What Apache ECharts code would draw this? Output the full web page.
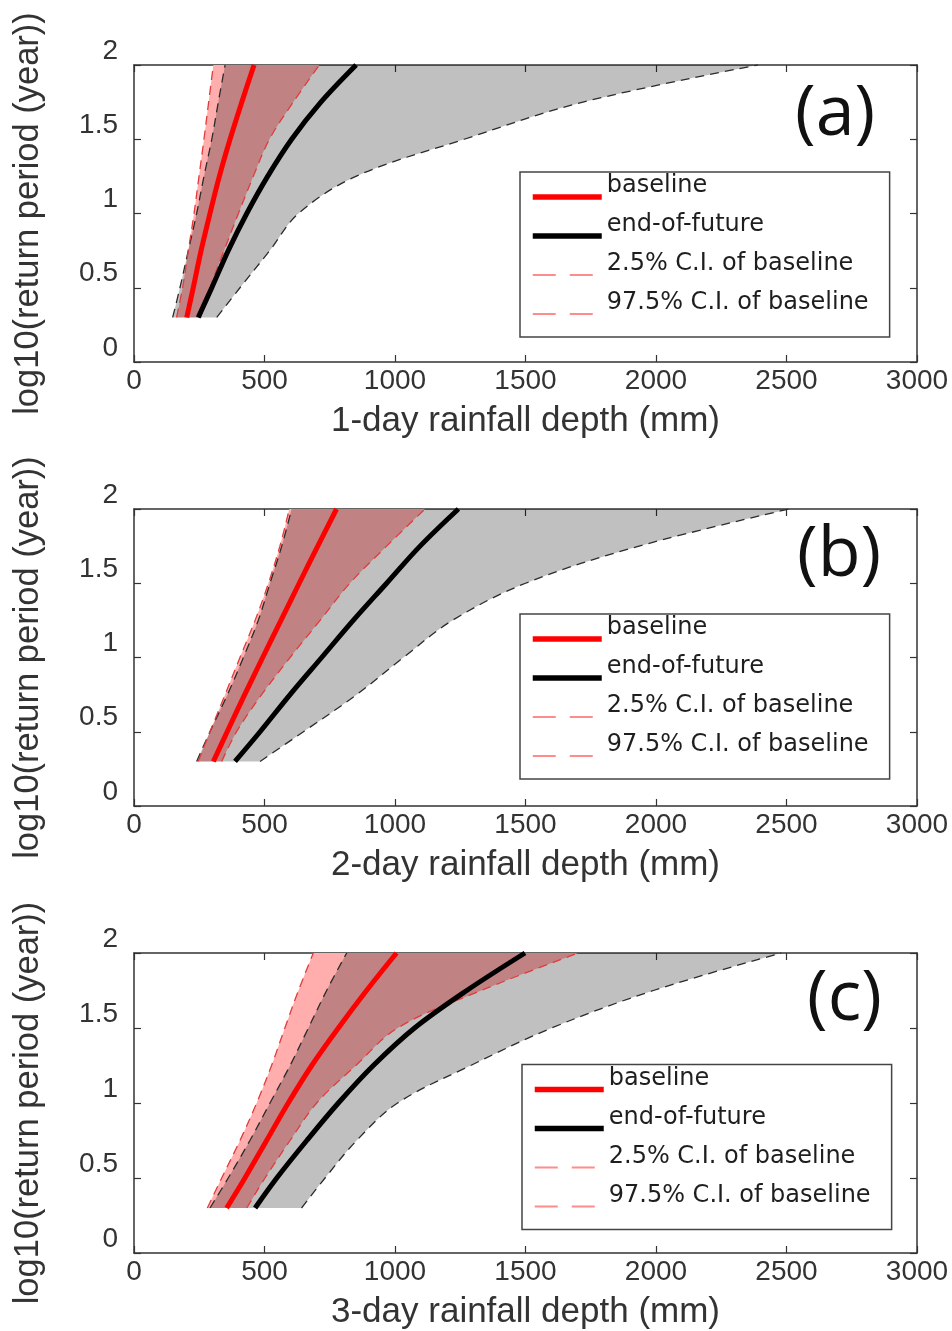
<!DOCTYPE html>
<html>
<head>
<meta charset="utf-8">
<script src="https://cdn.jsdelivr.net/npm/echarts@6/dist/echarts.min.js"></script>
<style>
html,body{margin:0;padding:0;background:#fff;}
#chart{width:952px;height:1331px;}
</style>
</head>
<body>
<div id="chart"></div>
<script>
// ---------------- DATA ----------------
// y levels: log10(return period in years)
const logReturnPeriod = [0.3, 0.5, 0.75, 1.0, 1.25, 1.5, 1.75, 2.0];

// rainfall depth (mm) at each y level
// (a) 1-day
const baselineA   = [202, 227, 257, 291, 327, 368, 413, 460];
const baseLoA     = [163, 186, 208, 230, 249, 268, 286, 304];
const baseHiA     = [255, 291, 345, 400, 457, 519, 610, 710];
const futureA     = [246, 298, 361, 432, 512, 604, 716, 851];
const futureLoA   = [148, 176, 208, 240, 268, 298, 323, 349];
const futureHiA   = [317, 406, 520, 630, 850, 1265, 1720, 2390];
// (b) 2-day
const baselineB   = [304, 357, 424, 493, 563, 633, 704, 776];
const baseLoB     = [246, 291, 349, 406, 464, 515, 559, 595];
const baseHiB     = [336, 393, 489, 598, 713, 827, 968, 1115];
const futureB     = [387, 483, 598, 719, 840, 968, 1096, 1243];
const futureLoB   = [240, 291, 358, 419, 476, 521, 566, 604];
const futureHiB   = [483, 649, 853, 1032, 1220, 1500, 1935, 2510];
// (c) 3-day
const baselineC   = [355, 425, 508, 591, 681, 783, 891, 1006];
const baseLoC     = [281, 336, 406, 470, 527, 578, 630, 687];
const baseHiC     = [432, 502, 598, 700, 850, 1010, 1330, 1702];
const futureC     = [464, 547, 662, 783, 917, 1075, 1275, 1498];
const futureLoC   = [291, 361, 444, 521, 598, 668, 738, 815];
const futureHiC   = [642, 732, 853, 1010, 1290, 1600, 1990, 2480];

const panelLabels = ['(a)', '(b)', '(c)'];
const xAxisNames = ['1-day rainfall depth (mm)', '2-day rainfall depth (mm)', '3-day rainfall depth (mm)'];
const yAxisName = 'log10(return period (year))';
const legendNames = ['baseline', 'end-of-future', '2.5% C.I. of baseline', '97.5% C.I. of baseline'];
const xMin = 0, xMax = 3000, xStep = 500;
const yMin = 0, yMax = 2, yStep = 0.5;

// ---------------- LAYOUT ----------------
const panels = [
  {base: baselineA, lo: baseLoA, hi: baseHiA, fut: futureA, fLo: futureLoA, fHi: futureHiA},
  {base: baselineB, lo: baseLoB, hi: baseHiB, fut: futureB, fLo: futureLoB, fHi: futureHiB},
  {base: baselineC, lo: baseLoC, hi: baseHiC, fut: futureC, fLo: futureLoC, fHi: futureHiC}
];
const gridTop = [65, 509, 953];
const gridHeight = [297, 297, 300];
const gridLeft = 134, gridWidth = 783;
const legendPos = [[520, 172], [520, 614], [522, 1064.5]];
const labelPos = [[795, 80], [797, 521], [807, 965]];
const SMOOTH = 0.35;

const AXIS_COLOR = '#333';
const TEXT_COLOR = '#333';
const SANS = 'Liberation Sans, Arial, sans-serif';

function pairs(xs) { return xs.map((x, i) => [x, logReturnPeriod[i]]); }

// same bezier smoothing rule as the line series uses, sampled densely
function smoothPoints(P, smooth, steps) {
  const out = [P[0]];
  let cp0 = P[0];
  for (let i = 1; i < P.length; i++) {
    const x = P[i][0], y = P[i][1], px = P[i - 1][0], py = P[i - 1][1];
    let cp1, nextCp0;
    if (i === P.length - 1) { cp1 = [x, y]; nextCp0 = [x, y]; }
    else {
      const nx = P[i + 1][0], ny = P[i + 1][1];
      let vx = nx - px, vy = ny - py;
      const lp = Math.hypot(x - px, y - py), ln = Math.hypot(nx - x, ny - y);
      const r = ln / (ln + lp);
      let ncx = x + vx * smooth * r, ncy = y + vy * smooth * r;
      ncx = Math.min(ncx, Math.max(nx, x)); ncy = Math.min(ncy, Math.max(ny, y));
      ncx = Math.max(ncx, Math.min(nx, x)); ncy = Math.max(ncy, Math.min(ny, y));
      vx = ncx - x; vy = ncy - y;
      let c1x = x - vx * lp / ln, c1y = y - vy * lp / ln;
      c1x = Math.min(c1x, Math.max(px, x)); c1y = Math.min(c1y, Math.max(py, y));
      c1x = Math.max(c1x, Math.min(px, x)); c1y = Math.max(c1y, Math.min(py, y));
      vx = x - c1x; vy = y - c1y;
      ncx = x + vx * ln / lp; ncy = y + vy * ln / lp;
      cp1 = [c1x, c1y]; nextCp0 = [ncx, ncy];
    }
    for (let s = 1; s <= steps; s++) {
      const t = s / steps, u = 1 - t;
      const a = u * u * u, b = 3 * u * u * t, c = 3 * u * t * t, d = t * t * t;
      out.push([a * px + b * cp0[0] + c * cp1[0] + d * x, a * py + b * cp0[1] + c * cp1[1] + d * y]);
    }
    cp0 = nextCp0;
  }
  return out;
}

function band(lo, hi, idx, name, style, z) {
  const loPts = pairs(lo), hiPts = pairs(hi);
  return {
    type: 'custom', name: name, xAxisIndex: idx * 2, yAxisIndex: idx * 2,
    z: z, silent: true, animation: false, clip: true,
    data: loPts.concat(hiPts), encode: {x: 0, y: 1},
    renderItem: function (params, api) {
      if (params.dataIndex !== 0) return null;
      const L = smoothPoints(loPts.map(p => api.coord(p)), SMOOTH, 16);
      const H = smoothPoints(hiPts.map(p => api.coord(p)), SMOOTH, 16);
      return {type: 'polygon', shape: {points: L.concat(H.reverse())}, style: style};
    }
  };
}

function line(xs, idx, name, color, width, dash, z) {
  return {
    type: 'line', name: name, xAxisIndex: idx * 2, yAxisIndex: idx * 2,
    data: pairs(xs), symbol: 'none', showSymbol: false, z: z, smooth: SMOOTH,
    silent: true, animation: false, clip: true,
    lineStyle: {color: color, width: width, type: dash || 'solid'}
  };
}

const grids = [], xAxes = [], yAxes = [], series = [], legends = [], titles = [];

panels.forEach((p, i) => {
  grids.push({left: gridLeft, top: gridTop[i], width: gridWidth, height: gridHeight[i],
              containLabel: false, outerBoundsMode: 'none', show: false});
  const tick = {show: true, inside: true, length: 7, lineStyle: {color: AXIS_COLOR, width: 1.2}};
  const aLine = {show: true, onZero: false, lineStyle: {color: AXIS_COLOR, width: 1.5}};
  xAxes.push({
    type: 'value', gridIndex: i, position: 'bottom', min: xMin, max: xMax, interval: xStep,
    axisLine: aLine, axisTick: tick, splitLine: {show: false},
    axisLabel: {color: TEXT_COLOR, fontFamily: SANS, fontSize: 28, margin: 5,
                formatter: v => String(v)},
    name: xAxisNames[i], nameLocation: 'middle', nameGap: 42,
    nameTextStyle: {color: TEXT_COLOR, fontFamily: SANS, fontSize: 35}
  });
  xAxes.push({
    type: 'value', gridIndex: i, position: 'top', min: xMin, max: xMax, interval: xStep,
    axisLine: aLine, axisTick: tick, splitLine: {show: false}, axisLabel: {show: false}
  });
  yAxes.push({
    type: 'value', gridIndex: i, position: 'left', min: yMin, max: yMax, interval: yStep,
    axisLine: aLine, axisTick: tick, splitLine: {show: false},
    axisLabel: {color: TEXT_COLOR, fontFamily: SANS, fontSize: 28, margin: 16,
                verticalAlign: 'bottom', lineHeight: 28, formatter: v => String(v)},
    name: yAxisName, nameLocation: 'middle', nameGap: 88, nameRotate: 90,
    nameTextStyle: {color: TEXT_COLOR, fontFamily: SANS, fontSize: 34.5}
  });
  yAxes.push({
    type: 'value', gridIndex: i, position: 'right', min: yMin, max: yMax, interval: yStep,
    axisLine: aLine, axisTick: tick, splitLine: {show: false}, axisLabel: {show: false}
  });

  // baseline C.I. band (pink), then end-of-future band as a translucent grey over it
  series.push(band(p.lo, p.hi, i, 'baseline C.I. band', {fill: '#ffadad'}, 1));
  series.push(band(p.fLo, p.fHi, i, 'end-of-future C.I. band', {fill: 'rgba(0,0,0,0.247)'}, 2));
  series.push(line(p.fLo, i, '2.5% C.I. of end-of-future', '#2b2b2b', 1.3, [9, 6], 3));
  series.push(line(p.fHi, i, '97.5% C.I. of end-of-future', '#2b2b2b', 1.3, [9, 6], 3));
  series.push(line(p.lo, i, legendNames[2], '#e23b3b', 1.3, [9, 6], 4));
  series.push(line(p.hi, i, legendNames[3], '#e23b3b', 1.3, [9, 6], 4));
  series.push(line(p.fut, i, legendNames[1], '#000000', 5, null, 5));
  series.push(line(p.base, i, legendNames[0], '#ff0000', 5, null, 6));

  const ciLegendStyle = {color: '#ff8c8c', type: [23, 14], width: 2, opacity: 1};
  legends.push({
    orient: 'vertical', left: legendPos[i][0], top: legendPos[i][1],
    itemWidth: 69, itemHeight: 10, itemGap: -7,
    padding: [2, 21, 0, 10],
    backgroundColor: '#fff', borderColor: '#444', borderWidth: 1.5, borderRadius: 0,
    selectedMode: false,
    itemStyle: {opacity: 0},
    formatter: '{t|{name}}',
    textStyle: {
      fontFamily: 'DejaVu Sans', fontSize: 24, color: '#1e1e1e',
      rich: {t: {fontFamily: 'DejaVu Sans', fontSize: 24, color: '#1e1e1e',
                 lineHeight: 16, padding: [0, 0, 22, 0]}}
    },
    data: [
      {name: legendNames[0], lineStyle: {width: 5.5}},
      {name: legendNames[1], lineStyle: {width: 5.5}},
      {name: legendNames[2], lineStyle: ciLegendStyle},
      {name: legendNames[3], lineStyle: ciLegendStyle}
    ]
  });

  titles.push({
    text: panelLabels[i], left: labelPos[i][0], top: labelPos[i][1], padding: 0,
    textStyle: {fontFamily: 'Open Sans', fontSize: 70, fontWeight: 'normal', color: '#111', lineHeight: 70}
  });
});

const chart = echarts.init(document.getElementById('chart'), null, {renderer: 'canvas'});
chart.setOption({
  backgroundColor: '#fff',
  animation: false,
  title: titles,
  legend: legends,
  grid: grids,
  xAxis: xAxes,
  yAxis: yAxes,
  series: series
});
</script>
</body>
</html>
